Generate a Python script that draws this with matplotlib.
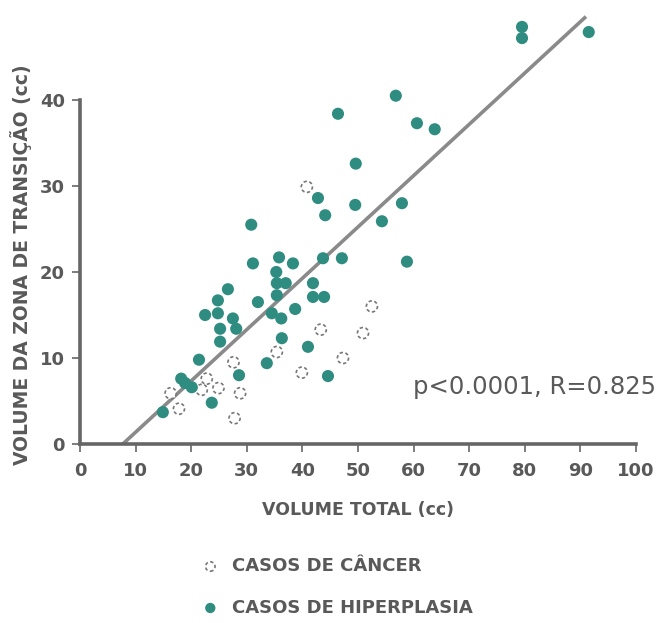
import matplotlib
matplotlib.use('Agg')
import matplotlib.pyplot as plt
import numpy as np

# volume total (cc) x volume da zona de transicao (cc)
cancer_x = [16.3, 17.8, 21.9, 22.8, 24.9, 27.6, 28.8, 27.8, 35.4, 39.9, 43.3, 47.3, 50.9, 52.5, 40.8]
cancer_y = [5.9, 4.1, 6.3, 7.6, 6.5, 9.5, 5.9, 3.0, 10.7, 8.3, 13.3, 10.0, 12.9, 16.0, 29.9]

hiper_x = [14.9, 18.9, 20.1, 21.4, 23.7, 22.5, 24.8, 24.8, 26.6, 25.2, 25.2, 27.5, 28.1, 28.6,
           31.1, 32.0, 33.6, 34.5, 35.8, 35.3, 35.4, 37.0, 35.4, 36.2, 36.3, 38.3, 38.7, 41.9,
           41.9, 43.9, 41.0, 43.7, 44.6, 30.8, 46.4, 56.8, 60.6, 63.8, 49.6, 42.8, 44.1, 49.5,
           57.9, 54.3, 47.1, 58.8, 79.5, 79.5, 91.5, 18.2]
hiper_y = [3.7, 7.1, 6.6, 9.8, 4.8, 15.0, 15.2, 16.7, 18.0, 13.4, 11.9, 14.6, 13.4, 8.0,
           21.0, 16.5, 9.4, 15.2, 21.7, 20.0, 18.7, 18.7, 17.3, 14.6, 12.3, 21.0, 15.7, 18.7,
           17.1, 17.1, 11.3, 21.6, 7.9, 25.5, 38.4, 40.5, 37.3, 36.6, 32.6, 28.6, 26.6, 27.8,
           28.0, 25.9, 21.6, 21.2, 48.5, 47.2, 47.9, 7.6]

# reta de regressao
reg_x = [7.7, 91.0]
reg_y = [0.0, 49.7]

x_ticks = [0, 10, 20, 30, 40, 50, 60, 70, 80, 90, 100]
y_ticks = [0, 10, 20, 30, 40]

teal = '#2f8c80'
grey = '#595959'

W, H = 662, 623
fig = plt.figure(figsize=(W / 100, H / 100), dpi=100)
ax = fig.add_axes([80 / W, (H - 444) / H, 556 / W, 444 / H])

ax.plot(reg_x, reg_y, color='#8a8a8a', lw=2.6, zorder=2, solid_capstyle='butt')
sc_c = ax.scatter(cancer_x, cancer_y, s=64, facecolors='white', edgecolors='#777777',
                  linewidths=1.2, linestyles=(0, (2, 1.5)), zorder=3, label='CASOS DE CÂNCER')
sc_h = ax.scatter(hiper_x, hiper_y, s=76, color=teal, edgecolors='none', zorder=4,
                  label='CASOS DE HIPERPLASIA')

ax.set_xlim(0, 100)
ax.set_ylim(0, 444 / 8.6)
for s in ['top', 'right']:
    ax.spines[s].set_visible(False)
ax.spines['left'].set_bounds(0, 40)
ax.spines['bottom'].set_bounds(0, 100)
for s in ['left', 'bottom']:
    ax.spines[s].set_color('#666666')
    ax.spines[s].set_linewidth(2.6)

ax.set_xticks(x_ticks)
ax.set_yticks(y_ticks)
ax.tick_params(axis='both', direction='out', length=6, width=1.2, color='#666666',
               labelsize=13, labelcolor=grey)
for lab in ax.get_xticklabels() + ax.get_yticklabels():
    lab.set_fontweight('bold')
ax.tick_params(axis='x', pad=7)
ax.tick_params(axis='y', pad=5)

ax.set_xlabel('VOLUME TOTAL (cc)', fontsize=12.5, color=grey, fontweight='bold', labelpad=15)
fig.text(21 / W, 1 - 265 / H, 'VOLUME DA ZONA DE TRANSIÇÃO (cc)', rotation=90,
         fontsize=13.5, color=grey, fontweight='bold', ha='center', va='center')

ax.text((413 - 80) / 556, (444 - 387) / 444, 'p<0.0001, R=0.825',
        transform=ax.transAxes, fontsize=17.5, color=grey, ha='left', va='center',
        clip_on=False)

leg = fig.legend(handles=[sc_c, sc_h], loc='center left',
                 bbox_to_anchor=(176 / W, 1 - 587 / H), frameon=False,
                 prop={'size': 13, 'weight': 'bold'}, labelcolor=grey, labelspacing=1.3,
                 handletextpad=0.2, markerscale=0.85)

fig.savefig('out.png', dpi=100)
